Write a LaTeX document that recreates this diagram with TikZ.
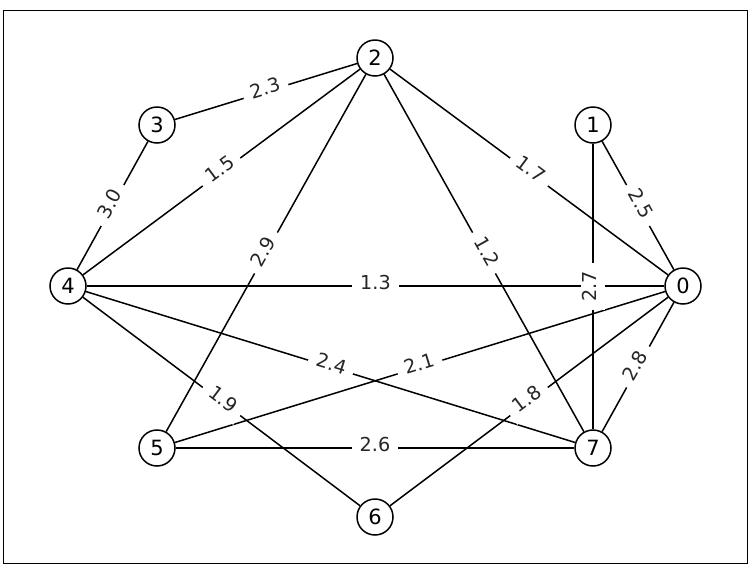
\documentclass[tikz,border=0pt]{standalone}
\usepackage{fontspec}
\setmainfont{DejaVu Sans}
\begin{document}
\begin{tikzpicture}[x=1pt,y=-1pt,
  vtx/.style={circle,draw,fill=white,minimum size=36pt,inner sep=0pt,line width=1.5pt,font=\fontsize{21}{24}\selectfont},
  edgeline/.style={line width=1.5pt},
  wlab/.style={midway,sloped,fill=white,inner xsep=8pt,inner ysep=5.8pt,text height=0.93em,text depth=0.24em,font=\fontsize{19.2}{22}\selectfont,text=black!85}]
\useasboundingbox (0,0) rectangle (754,574);
\draw[line width=1.2pt] (3.5,10.5) rectangle (747.5,563.5);
\node[vtx] (0) at (683,286) {0};
\node[vtx] (1) at (593,125) {1};
\node[vtx] (2) at (375,58) {2};
\node[vtx] (3) at (157,125) {3};
\node[vtx] (4) at (68,286) {4};
\node[vtx] (5) at (157,448) {5};
\node[vtx] (6) at (375,517) {6};
\node[vtx] (7) at (593,448) {7};
\def\edgelist{3/2/2.3, 4/3/3.0, 4/2/1.5, 5/2/2.9, 2/7/1.2, 2/0/1.7, 1/0/2.5, 7/1/2.7, 4/0/1.3, 4/7/2.4, 4/6/1.9, 5/0/2.1, 5/7/2.6, 6/0/1.8, 7/0/2.8}
\foreach \a/\b/\w in \edgelist {\draw[edgeline] (\a) -- (\b);}
\foreach \a/\b/\w in \edgelist {\path (\a) -- node[wlab]{\w} (\b);}
\end{tikzpicture}
\end{document}
